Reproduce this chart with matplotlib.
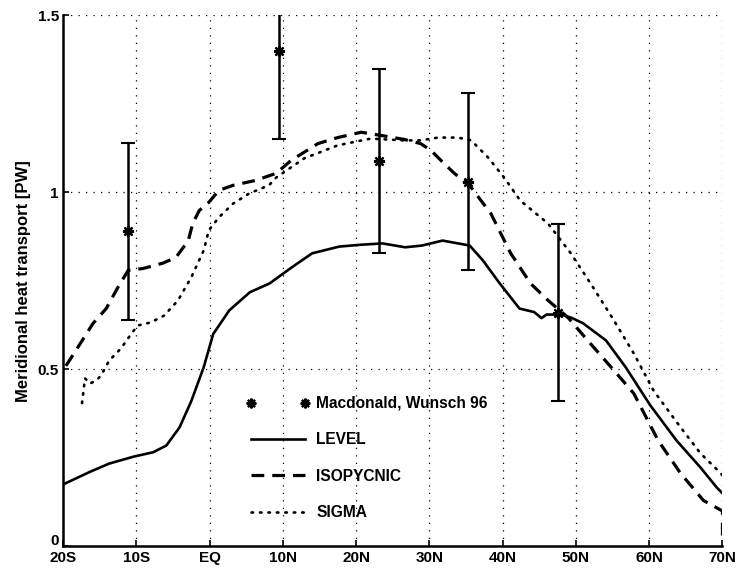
import numpy as np
import matplotlib.pyplot as plt
import matplotlib.transforms as mtransforms
from matplotlib.lines import Line2D

plt.rcParams['font.family'] = ['Liberation Sans', 'DejaVu Sans']
plt.rcParams['font.weight'] = 'bold'
plt.rcParams['axes.labelweight'] = 'bold'

# model curves: latitude (deg, S negative) and transport (PW)
level_lat = [-20, -16.4, -13.7, -10.3, -7.7, -5.9, -4.1, -2.5, -0.8, 0.5, 2.7, 5.5, 8.2,
             11.2, 14, 17.7, 20.5, 23.6, 26.7, 29, 31.8, 35.5, 37.3, 39.6, 42.3, 44.3,
             45.3, 46, 48, 49.5, 51, 54.1, 56.8, 60.1, 63.7, 67, 69.2, 70]
level_val = [0.175, 0.21, 0.234, 0.254, 0.266, 0.285, 0.336, 0.41, 0.506, 0.60, 0.667, 0.718, 0.743,
             0.788, 0.828, 0.847, 0.852, 0.856, 0.845, 0.85, 0.864, 0.85, 0.808, 0.743, 0.672, 0.662,
             0.645, 0.655, 0.655, 0.645, 0.63, 0.582, 0.506, 0.40, 0.30, 0.223, 0.167, 0.15]

iso_lat = [-19.6, -17.8, -15.9, -14.1, -12.5, -11.1, -9.1, -6.4, -4.6, -2.9, -2.3, -1.4, -0.1,
           1.3, 3.2, 6.3, 9.1, 11.1, 14.8, 17.5, 20.7, 23.4, 26.5, 28.8, 30.2, 31.6, 33.3,
           35.7, 38.4, 41.1, 43.8, 46.2, 48.9, 51.6, 55.2, 57.9, 61.2, 64.3, 67.4, 70, 70]
iso_val = [0.51, 0.568, 0.63, 0.672, 0.732, 0.78, 0.785, 0.80, 0.816, 0.864, 0.912, 0.949, 0.972,
           1.006, 1.02, 1.034, 1.054, 1.09, 1.138, 1.155, 1.17, 1.161, 1.15, 1.138, 1.119, 1.09, 1.056,
           1.014, 0.94, 0.828, 0.743, 0.695, 0.647, 0.582, 0.497, 0.432, 0.30, 0.206, 0.13, 0.10, 0.02]

sigma_lat = [-17.4, -17.2, -17.0, -16.3, -15.4, -14.8, -13.7, -12.1, -10.7, -9.8, -8.0, -6.2,
             -4.3, -2.5, -0.8, -0.1, 1.3, 3.2, 5.4, 8.1, 9.1, 12.9, 17.5, 22, 26.5, 28.8, 31.2,
             33.9, 35.7, 38, 40.2, 42.4, 46.2, 49.3, 52, 55.2, 57.9, 60.6, 64.3, 67, 69.8, 70]
sigma_val = [0.405, 0.44, 0.475, 0.46, 0.47, 0.483, 0.525, 0.559, 0.60, 0.624, 0.633, 0.652,
             0.695, 0.76, 0.836, 0.893, 0.93, 0.968, 0.997, 1.02, 1.042, 1.096, 1.133, 1.152, 1.147, 1.147, 1.155,
             1.155, 1.147, 1.099, 1.042, 0.977, 0.912, 0.828, 0.743, 0.638, 0.545, 0.44, 0.336, 0.263, 0.206, 0.20]

# hydrographic estimates with error bars
mw_lat = [-11.1, 9.5, 23.1, 35.3, 47.5]
mw_val = [0.89, 1.40, 1.09, 1.03, 0.66]
mw_err = [0.25, 0.25, 0.26, 0.25, 0.25]

xticks = [-20, -10, 0, 10, 20, 30, 40, 50, 60, 70]
xlabels = ['20S', '10S', 'EQ', '10N', '20N', '30N', '40N', '50N', '60N', '70N']
yticks = [0, 0.5, 1, 1.5]
ylabels = ['0', '0.5', '1', '1.5']

DASH = (0, (4, 2.5))
DOTS = (0, (0.6, 2.6))
STAR = (8, 2, 0)

fig = plt.figure(figsize=(7.41, 5.71), dpi=100)
ax = fig.add_axes([0.085, 0.043, 0.89, 0.930])

ax.errorbar(mw_lat, mw_val, yerr=mw_err, fmt='none', ecolor='black', elinewidth=1.8,
            capsize=5, capthick=1.5, zorder=3)
ax.plot(mw_lat, mw_val, ls='none', marker=STAR, ms=8, mew=1.6, color='black', zorder=4)

ax.plot(level_lat, level_val, color='black', lw=1.9, ls='-')
ax.plot(iso_lat, iso_val, color='black', lw=2.3, ls=DASH)
ax.plot(sigma_lat, sigma_val, color='black', lw=1.9, ls=DOTS, dash_capstyle='round')

ax.set_xlim(-20, 70)
ax.set_ylim(0, 1.5)
ax.set_xticks(xticks)
ax.set_xticklabels(xlabels)
ax.set_yticks(yticks)
ax.set_yticklabels(ylabels)
ax.tick_params(direction='in', length=4, width=1.2, labelsize=11, pad=3)
ax.grid(True, color='black', ls=(0, (1, 5)), lw=0.9)
for s in ['top', 'right']:
    ax.spines[s].set_visible(False)
for s in ['left', 'bottom']:
    ax.spines[s].set_linewidth(1.8)
ax.set_ylabel('Meridional heat transport [PW]', fontsize=12, labelpad=5)

# lift the "0" a little so it sits above the corner instead of on "20S"
zero_lbl = ax.get_yticklabels()[0]
zero_lbl.set_transform(zero_lbl.get_transform() +
                       mtransforms.ScaledTranslation(0, 5 / 72, fig.dpi_scale_trans))

handles = [
    Line2D([], [], ls='none', marker=STAR, ms=7, mew=1.6, color='black'),
    Line2D([], [], color='black', lw=1.9),
    Line2D([], [], color='black', lw=2.3, ls=DASH),
    Line2D([], [], color='black', lw=1.9, ls=DOTS, dash_capstyle='round'),
]
labels = ['Macdonald, Wunsch 96', 'LEVEL', 'ISOPYCNIC', 'SIGMA']
fig.legend(handles, labels, loc='upper left', bbox_to_anchor=(0.332, 0.3065), frameon=False,
           numpoints=2, handlelength=4.1, handletextpad=0.4, labelspacing=1.38,
           borderpad=0, borderaxespad=0, prop={'size': 11.2, 'weight': 'bold'})

fig.savefig('out.png', dpi=100)
